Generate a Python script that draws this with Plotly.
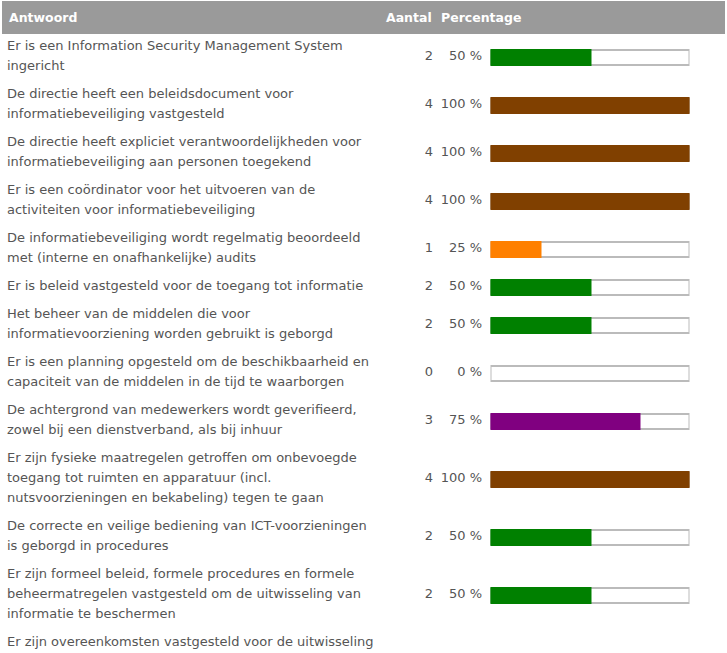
import plotly.graph_objects as go

# ---- data ----
answers = [
    ["Er is een Information Security Management System", "ingericht"],
    ["De directie heeft een beleidsdocument voor", "informatiebeveiliging vastgesteld"],
    ["De directie heeft expliciet verantwoordelijkheden voor", "informatiebeveiliging aan personen toegekend"],
    ["Er is een coördinator voor het uitvoeren van de", "activiteiten voor informatiebeveiliging"],
    ["De informatiebeveiliging wordt regelmatig beoordeeld", "met (interne en onafhankelijke) audits"],
    ["Er is beleid vastgesteld voor de toegang tot informatie"],
    ["Het beheer van de middelen die voor", "informatievoorziening worden gebruikt is geborgd"],
    ["Er is een planning opgesteld om de beschikbaarheid en", "capaciteit van de middelen in de tijd te waarborgen"],
    ["De achtergrond van medewerkers wordt geverifieerd,", "zowel bij een dienstverband, als bij inhuur"],
    ["Er zijn fysieke maatregelen getroffen om onbevoegde", "toegang tot ruimten en apparatuur (incl.",
     "nutsvoorzieningen en bekabeling) tegen te gaan"],
    ["De correcte en veilige bediening van ICT-voorzieningen", "is geborgd in procedures"],
    ["Er zijn formeel beleid, formele procedures en formele", "beheermatregelen vastgesteld om de uitwisseling van",
     "informatie te beschermen"],
]
partial_answer = "Er zijn overeenkomsten vastgesteld voor de uitwisseling"
counts = [2, 4, 4, 4, 1, 2, 2, 0, 3, 4, 2, 2]
percentages = [50, 100, 100, 100, 25, 50, 50, 0, 75, 100, 50, 50]
count_colors = {0: "#ffffff", 1: "#ff8000", 2: "#008000", 3: "#800080", 4: "#804000"}
headers = ["Antwoord", "Aantal", "Percentage"]

# ---- layout helpers ----
W, H = 727, 653
LINE_H = 20
ROW_GAP = 8
first_line_y = 47

text_x, text_y, text_s = [], [], []
centers = []
y = first_line_y
for lines in answers:
    ys = []
    for ln in lines:
        text_x.append(7)
        text_y.append(y)
        text_s.append(ln)
        ys.append(y)
        y += LINE_H
    centers.append(sum(ys) / len(ys))
    y += ROW_GAP
text_x.append(7)
text_y.append(y)
text_s.append(partial_answer)

TEXT_COLOR = "#555555"
FONT = "DejaVu Sans"

fig = go.Figure()

# header band
fig.add_shape(type="rect", xref="x", yref="y", x0=2, x1=725, y0=1, y1=34,
              fillcolor="#9a9a9a", line_width=0, layer="below")

# answer text
fig.add_trace(go.Scatter(x=text_x, y=text_y, text=text_s, mode="text",
                         textposition="middle right",
                         textfont=dict(family=FONT, size=13, color=TEXT_COLOR),
                         hoverinfo="skip", showlegend=False))
# counts
fig.add_trace(go.Scatter(x=[433] * len(counts), y=centers, text=[str(c) for c in counts],
                         mode="text", textposition="middle left",
                         textfont=dict(family=FONT, size=13, color=TEXT_COLOR),
                         hoverinfo="skip", showlegend=False))
# percentages
fig.add_trace(go.Scatter(x=[482] * len(percentages), y=centers, text=[f"{p} %" for p in percentages],
                         mode="text", textposition="middle left",
                         textfont=dict(family=FONT, size=13, color=TEXT_COLOR),
                         hoverinfo="skip", showlegend=False))

# bar background boxes
fig.add_trace(go.Bar(x=[100] * len(percentages), y=centers, orientation="h",
                     xaxis="x2", yaxis="y", width=15,
                     marker=dict(color="#ffffff", line=dict(color="#bbbbbb", width=2)),
                     hoverinfo="skip", showlegend=False))
# colored bars
bar_colors = [count_colors[c] for c in counts]
fig.add_trace(go.Bar(x=percentages, y=centers, orientation="h",
                     xaxis="x2", yaxis="y", width=15,
                     marker=dict(color=bar_colors,
                                 line=dict(color=bar_colors,
                                           width=[0 if p == 0 else 2 for p in percentages])),
                     hoverinfo="skip", showlegend=False))

# header text
hdr_font = dict(family=FONT, size=12.5, color="white")
fig.add_annotation(x=7, y=17, text=f"<b>{headers[0]}</b>", xanchor="left", yanchor="middle",
                   showarrow=False, font=hdr_font, xref="x", yref="y")
fig.add_annotation(x=384, y=17, text=f"<b>{headers[1]}</b>", xanchor="left", yanchor="middle",
                   showarrow=False, font=hdr_font, xref="x", yref="y")
fig.add_annotation(x=439, y=17, text=f"<b>{headers[2]}</b>", xanchor="left", yanchor="middle",
                   showarrow=False, font=hdr_font, xref="x", yref="y")

fig.update_layout(
    width=W, height=H, margin=dict(l=0, r=0, t=0, b=0),
    paper_bgcolor="white", plot_bgcolor="rgba(0,0,0,0)",
    barmode="overlay", bargap=0,
    xaxis=dict(range=[0, W], visible=False, domain=[0, 1], fixedrange=True),
    xaxis2=dict(range=[0, 100], visible=False, domain=[490.5 / W, 689.5 / W],
                anchor="y", fixedrange=True),
    yaxis=dict(range=[H, 0], visible=False, fixedrange=True),
)

fig.write_html("out.html")
